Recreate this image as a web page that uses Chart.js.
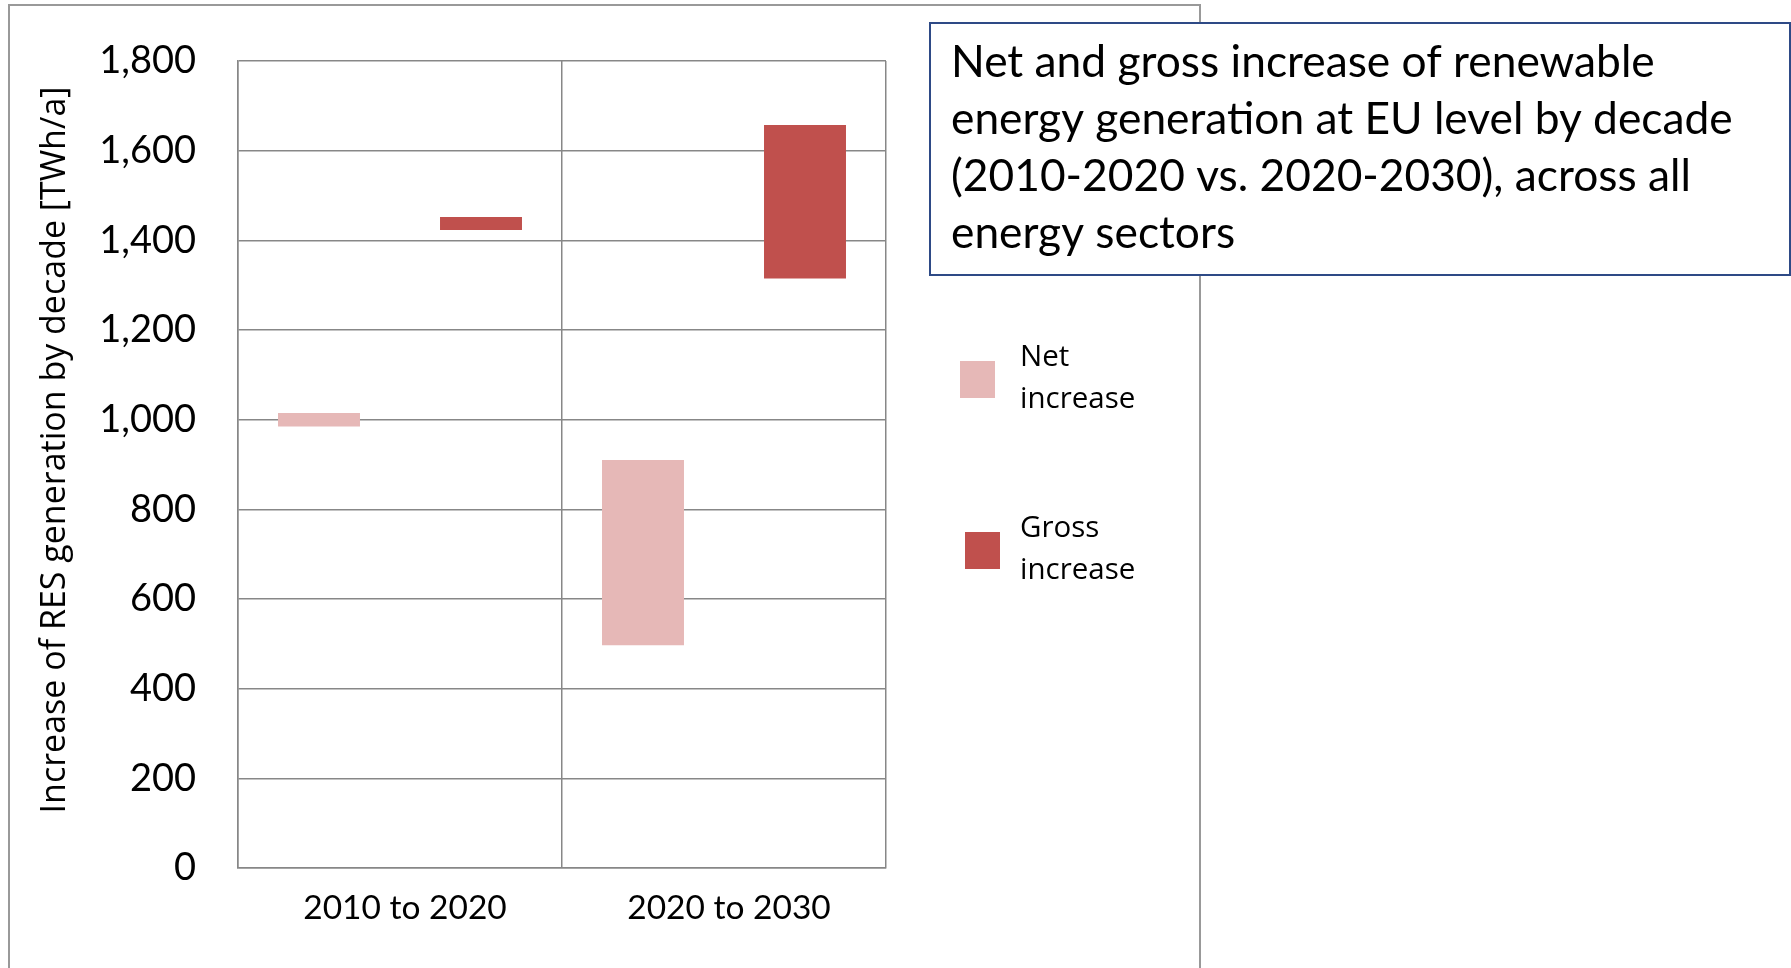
<!DOCTYPE html>
<html>
<head>
<meta charset="utf-8">
<title>Net and gross increase of renewable energy generation</title>
<script src="https://cdn.jsdelivr.net/npm/chart.js@4.4.0/dist/chart.umd.min.js"></script>
<style>
  body { margin: 0; background: #fff; }
  #wrap { width: 1791px; height: 968px; }
</style>
</head>
<body>
<div id="wrap"><canvas id="chart" width="1791" height="968"></canvas></div>
<script>
// chart values (TWh/a)
const categories = ['2010 to 2020', '2020 to 2030'];
const netLow = [985, 497];
const netHigh = [1015, 910];
const grossLow = [1423, 1315];
const grossHigh = [1452, 1657];

const legendNet = ['Net', 'increase'];
const legendGross = ['Gross', 'increase'];
const titleLines = [
  'Net and gross increase of renewable',
  'energy generation at EU level by decade',
  '(2010-2020 vs. 2020-2030), across all',
  'energy sectors'
];
const yTitle = 'Increase of RES generation by decade [TWh/a]';

const netColor = '#E6B8B7';
const grossColor = '#C0504D';
const gridColor = '#878787';

// frame, axis title, title box and legend drawn around the chart
const decorations = {
  id: 'decorations',
  beforeDraw(chart) {
    const ctx = chart.ctx;
    ctx.save();
    ctx.fillStyle = '#fff';
    ctx.fillRect(0, 0, chart.width, chart.height);
    ctx.strokeStyle = '#999';
    ctx.lineWidth = 2;
    ctx.strokeRect(9, 5, 1191, 1000);
    ctx.restore();
  },
  afterDraw(chart) {
    const ctx = chart.ctx;
    ctx.save();

    // y axis title, a bit above the middle of the plot like the original
    ctx.save();
    ctx.translate(55, 450);
    ctx.rotate(-Math.PI / 2);
    ctx.fillStyle = '#000';
    ctx.font = '34px "Open Sans", sans-serif';
    ctx.textAlign = 'center';
    ctx.textBaseline = 'middle';
    ctx.fillText(yTitle, 0, 0);
    ctx.restore();

    // title box
    ctx.fillStyle = '#fff';
    ctx.fillRect(930, 23, 860, 252);
    ctx.strokeStyle = '#2E4A86';
    ctx.lineWidth = 2;
    ctx.strokeRect(930, 23, 860, 252);
    ctx.fillStyle = '#000';
    ctx.font = '44.3px Lato, sans-serif';
    ctx.textBaseline = 'alphabetic';
    titleLines.forEach((line, i) => {
      ctx.fillText(line, 951, 77 + i * 57);
    });

    // legend
    const items = [
      { lines: legendNet, color: chart.data.datasets[0].backgroundColor, box: [960, 361], y: 366 },
      { lines: legendGross, color: chart.data.datasets[1].backgroundColor, box: [965, 532], y: 537 }
    ];
    ctx.font = '29.5px "Open Sans", sans-serif';
    items.forEach(item => {
      ctx.fillStyle = item.color;
      ctx.fillRect(item.box[0], item.box[1], 35, 37);
      ctx.fillStyle = '#000';
      item.lines.forEach((t, i) => ctx.fillText(t, 1020, item.y + i * 42));
    });
    ctx.restore();
  }
};

new Chart(document.getElementById('chart'), {
  type: 'bar',
  data: {
    labels: categories,
    datasets: [
      {
        label: legendNet.join(' '),
        data: netLow.map((v, i) => [v, netHigh[i]]),
        backgroundColor: netColor,
        borderWidth: 0,
        borderSkipped: false
      },
      {
        label: legendGross.join(' '),
        data: grossLow.map((v, i) => [v, grossHigh[i]]),
        backgroundColor: grossColor,
        borderWidth: 0,
        borderSkipped: false
      }
    ]
  },
  options: {
    responsive: false,
    animation: false,
    devicePixelRatio: 1,
    categoryPercentage: 1.0,
    barPercentage: 0.506,
    layout: { padding: { left: 20, top: 61, right: 905, bottom: 0 } },
    plugins: {
      legend: { display: false },
      tooltip: { enabled: false }
    },
    scales: {
      x: {
        grid: { offset: true, color: gridColor, lineWidth: 1.5, drawTicks: false },
        border: { color: gridColor, width: 1.5 },
        ticks: { color: '#000', font: { family: 'Lato', size: 33.5 }, padding: 20, labelOffset: 5 },
        afterFit: (s) => { s.height = 100; }
      },
      y: {
        min: 0,
        max: 1800,
        grid: { color: gridColor, lineWidth: 1.5, drawTicks: false },
        border: { color: gridColor, width: 1.5 },
        ticks: {
          stepSize: 200,
          color: '#000',
          // small line height so the label padding does not push the plot down
          font: { family: 'Lato', size: 38, lineHeight: 0.9 },
          padding: 42,
          callback: (v) => v.toLocaleString('en-US')
        },
        afterFit: (s) => { s.width = 218; }
      }
    }
  },
  plugins: [decorations]
});
</script>
</body>
</html>
